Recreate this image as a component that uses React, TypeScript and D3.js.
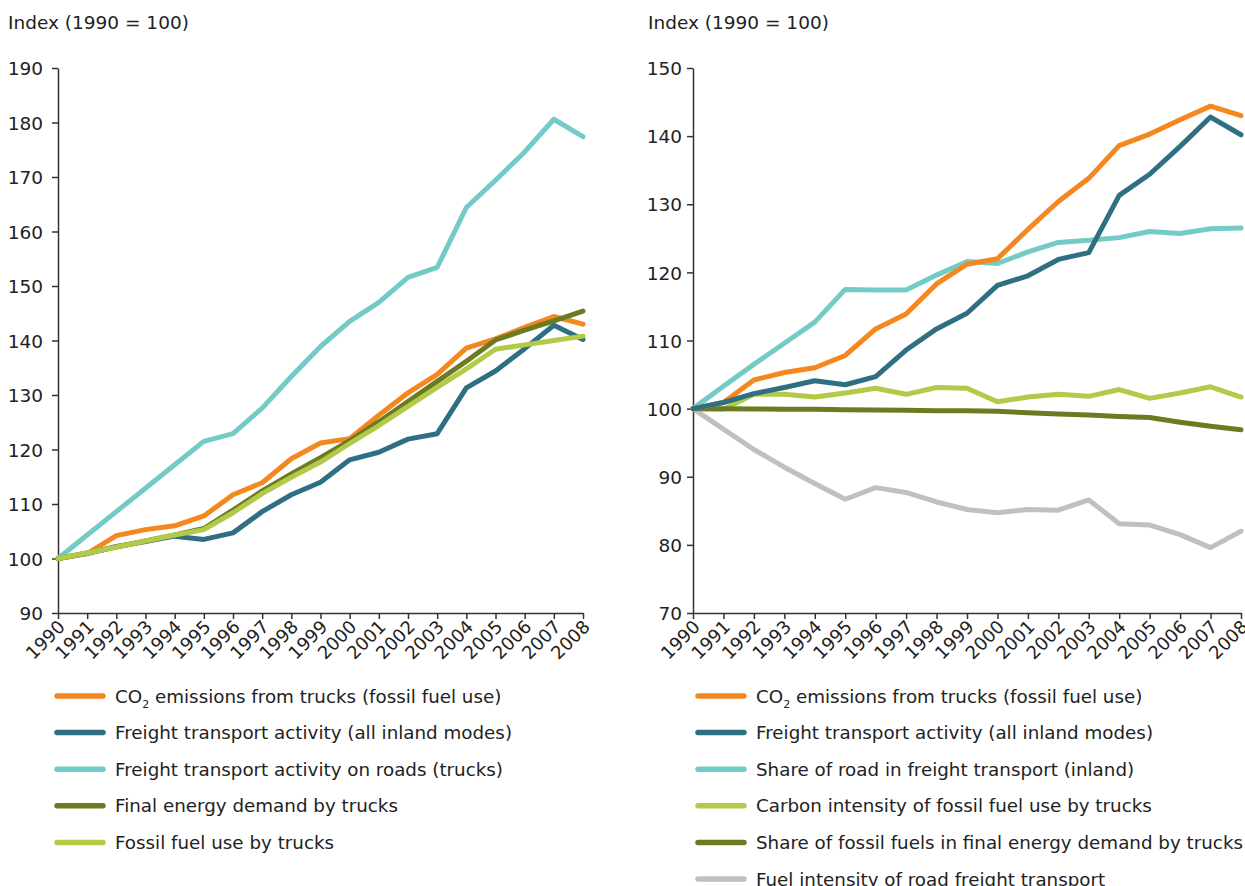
import React, { useRef, useEffect } from "react";
import * as d3 from "d3";

const years = [
  1990, 1991, 1992, 1993, 1994, 1995, 1996, 1997, 1998, 1999, 2000, 2001,
  2002, 2003, 2004, 2005, 2006, 2007, 2008,
];

// left panel
const co2Trucks = [100, 100.9, 104.2, 105.3, 106.0, 107.8, 111.7, 113.9, 118.3, 121.2, 122.0, 126.3, 130.4, 133.8, 138.6, 140.3, 142.4, 144.4, 143.0];
const freightAll = [100, 100.9, 102.2, 103.1, 104.1, 103.5, 104.7, 108.6, 111.7, 114.0, 118.1, 119.5, 121.9, 122.9, 131.3, 134.4, 138.5, 142.8, 140.2];
const freightRoad = [100, 104.3, 108.6, 112.9, 117.2, 121.5, 122.9, 127.6, 133.4, 138.9, 143.5, 147.0, 151.6, 153.4, 164.4, 169.4, 174.6, 180.6, 177.4];
const finalEnergy = [100, 101.0, 102.1, 103.2, 104.3, 105.5, 108.9, 112.4, 115.5, 118.5, 121.6, 125.1, 128.8, 132.5, 136.2, 140.1, 141.9, 143.6, 145.4];
const fossilUse = [100, 101.0, 102.1, 103.2, 104.3, 105.3, 108.4, 111.9, 114.9, 117.7, 121.1, 124.4, 127.9, 131.4, 134.8, 138.4, 139.2, 140.0, 140.8];

// right panel
const roadShare = [100, 103.3, 106.5, 109.6, 112.7, 117.5, 117.4, 117.4, 119.6, 121.6, 121.3, 123.0, 124.4, 124.7, 125.1, 126.0, 125.7, 126.4, 126.5];
const carbonIntensity = [100, 99.9, 102.1, 102.1, 101.7, 102.3, 103.0, 102.1, 103.1, 103.0, 101.0, 101.7, 102.1, 101.8, 102.8, 101.5, 102.3, 103.2, 101.7];
const fossilShare = [100, 100.0, 99.95, 99.9, 99.9, 99.85, 99.8, 99.75, 99.7, 99.7, 99.6, 99.4, 99.2, 99.05, 98.85, 98.7, 98.0, 97.4, 96.9];
const fuelIntensity = [100, 97.0, 94.0, 91.4, 89.0, 86.7, 88.4, 87.7, 86.3, 85.2, 84.7, 85.2, 85.1, 86.6, 83.1, 82.9, 81.5, 79.6, 82.0];

const leftTicks = [90, 100, 110, 120, 130, 140, 150, 160, 170, 180, 190];
const rightTicks = [70, 80, 90, 100, 110, 120, 130, 140, 150];

const ORANGE = "#f5871f";
const DARKBLUE = "#2f6f84";
const CYAN = "#74cbc6";
const OLIVE = "#6b7b21";
const LIGHTGREEN = "#b2ca47";
const GREY = "#bfc0c4";

const FONT = "'DejaVu Sans', Verdana, sans-serif";

interface Series {
  name: string;
  color: string;
  values: number[];
  co2?: boolean;
}

// legend order
const leftSeries: Series[] = [
  { name: " emissions from trucks (fossil fuel use)", color: ORANGE, values: co2Trucks, co2: true },
  { name: "Freight transport activity (all inland modes)", color: DARKBLUE, values: freightAll },
  { name: "Freight transport activity on roads (trucks)", color: CYAN, values: freightRoad },
  { name: "Final energy demand by trucks", color: OLIVE, values: finalEnergy },
  { name: "Fossil fuel use by trucks", color: LIGHTGREEN, values: fossilUse },
];
const rightSeries: Series[] = [
  { name: " emissions from trucks (fossil fuel use)", color: ORANGE, values: co2Trucks, co2: true },
  { name: "Freight transport activity (all inland modes)", color: DARKBLUE, values: freightAll },
  { name: "Share of road in freight transport (inland)", color: CYAN, values: roadShare },
  { name: "Carbon intensity of fossil fuel use by trucks", color: LIGHTGREEN, values: carbonIntensity },
  { name: "Share of fossil fuels in final energy demand by trucks", color: OLIVE, values: fossilShare },
  { name: "Fuel intensity of road freight transport", color: GREY, values: fuelIntensity },
];

// drawing order (index into legend list)
const leftOrder = [1, 2, 0, 3, 4];
const rightOrder = [5, 2, 3, 4, 0, 1];

interface PanelOpts {
  x0: number;
  x1: number;
  domain: [number, number];
  ticks: number[];
  series: Series[];
  order: number[];
  titleX: number;
  tickPadding: number;
  legendX: number;
}

function drawPanel(
  svg: d3.Selection<SVGSVGElement, unknown, null, undefined>,
  o: PanelOpts
) {
  const top = 68;
  const bottom = 613;
  const g = svg.append("g");

  const x = d3.scalePoint<number>().domain(years).range([o.x0, o.x1]);
  const y = d3.scaleLinear().domain(o.domain).range([bottom, top]);

  g.append("text")
    .attr("x", o.titleX)
    .attr("y", 29)
    .style("font-family", FONT)
    .style("font-size", "18.5px")
    .style("fill", "#222")
    .text("Index (1990 = 100)");

  const yAxis = g
    .append("g")
    .attr("transform", `translate(${o.x0},0)`)
    .call(
      d3.axisLeft(y).tickValues(o.ticks).tickSize(6).tickSizeOuter(0).tickPadding(o.tickPadding)
    );
  const xAxis = g
    .append("g")
    .attr("transform", `translate(0,${bottom})`)
    .call(d3.axisBottom(x).tickSize(6).tickSizeOuter(0).tickFormat(() => ""));

  [yAxis, xAxis].forEach((a) => {
    a.select(".domain").attr("stroke", "#333").attr("stroke-width", 1.5);
    a.selectAll(".tick line").attr("stroke", "#333").attr("stroke-width", 1.5);
  });
  yAxis
    .selectAll(".tick text")
    .attr("dy", "0.36em")
    .style("font-family", FONT)
    .style("font-size", "18.5px")
    .style("fill", "#222");

  g.append("g")
    .selectAll("text")
    .data(years)
    .enter()
    .append("text")
    .attr("transform", (d) => `translate(${(x(d) as number) + 8},${bottom + 15}) rotate(-45)`)
    .attr("text-anchor", "end")
    .style("font-family", FONT)
    .style("font-size", "18px")
    .style("fill", "#222")
    .text((d) => d);

  const line = d3
    .line<number>()
    .x((_, i) => x(years[i]) as number)
    .y((v) => y(v));

  g.append("g")
    .selectAll("path")
    .data(o.order.map((i) => o.series[i]))
    .enter()
    .append("path")
    .attr("d", (s) => line(s.values))
    .attr("fill", "none")
    .attr("stroke", (s) => s.color)
    .attr("stroke-width", 5)
    .attr("stroke-linejoin", "round")
    .attr("stroke-linecap", "round");

  const leg = g
    .append("g")
    .selectAll("g")
    .data(o.series)
    .enter()
    .append("g")
    .attr("transform", (_, i) => `translate(${o.legendX},${696 + i * 36.6})`);
  leg
    .append("line")
    .attr("x1", 0)
    .attr("x2", 46)
    .attr("stroke", (s) => s.color)
    .attr("stroke-width", 5.5)
    .attr("stroke-linecap", "round");
  const txt = leg
    .append("text")
    .attr("x", 58)
    .attr("y", 6.5)
    .style("font-family", FONT)
    .style("font-size", "18.3px")
    .style("fill", "#222");
  txt.each(function (s) {
    const t = d3.select(this);
    if (s.co2) {
      t.append("tspan").text("CO");
      t.append("tspan").attr("dy", 5).style("font-size", "11px").text("2");
      t.append("tspan").attr("dy", -5).text(s.name);
    } else {
      t.text(s.name);
    }
  });
}

const App: React.FunctionComponent = function () {
  const ref = useRef<SVGSVGElement>(null);

  useEffect(() => {
    if (ref.current == null) return;
    const svg = d3.select(ref.current);
    svg.selectAll("*").remove();
    drawPanel(svg, {
      x0: 58, x1: 583, domain: [90, 190], ticks: leftTicks, series: leftSeries,
      order: leftOrder, titleX: 8, tickPadding: 9, legendX: 57,
    });
    drawPanel(svg, {
      x0: 693, x1: 1241, domain: [70, 150], ticks: rightTicks, series: rightSeries,
      order: rightOrder, titleX: 648, tickPadding: 5, legendX: 698,
    });
  }, []);

  return (
    <svg
      ref={ref}
      width={1245}
      height={886}
      style={{ position: "absolute", left: 0, top: 0, background: "#fff" }}
    />
  );
};

export default App;
